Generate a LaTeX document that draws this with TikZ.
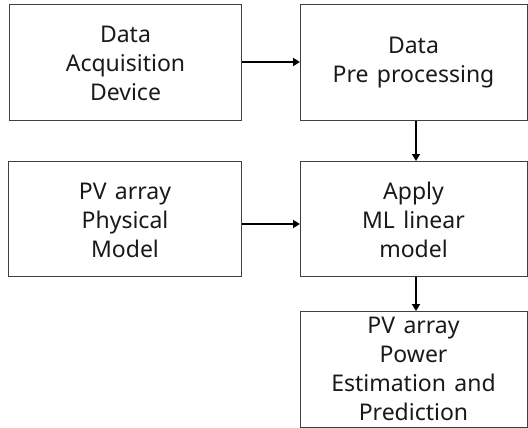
\documentclass[tikz,border=0pt]{standalone}
\usepackage{fontspec}
\setmainfont[WordSpace={1.4}]{Noto Sans}
\usetikzlibrary{arrows.meta}
\begin{document}
\begin{tikzpicture}[x=1pt,y=-1pt,
  blk/.style={draw=black!75,line width=1pt,inner sep=0pt},
  lbl/.style={align=center,font=\fontsize{23}{29}\selectfont,text=black!90},
  conn/.style={line width=2.7pt,-{Triangle[length=7pt,width=8pt]}}]
\useasboundingbox (0,0) rectangle (528,428);
\draw[blk] (9.5,4.5) rectangle (241.5,120.5);
\node[lbl] (t1) at (125.5,63) {Data\\Acquisition\\Device};
\draw[blk] (300.5,4.5) rectangle (527,120.5);
\node[lbl] (t2) at (413.5,63) {Data\\Pre processing};
\draw[blk] (8.5,161.5) rectangle (241.5,276.5);
\node[lbl] (t3) at (125,220) {PV array\\Physical\\Model};
\draw[blk] (300.5,161.5) rectangle (527,276.5);
\node[lbl] (t4) at (413.5,220) {Apply\\ML linear\\model};
\draw[blk] (300.5,311.5) rectangle (527,427.5);
\node[lbl] (t5) at (413.5,369) {PV array\\Power\\Estimation and\\Prediction};
\coordinate (a1s) at (242,62);
\coordinate (a1e) at (300,62);
\coordinate (a2s) at (416,121);
\coordinate (a2e) at (416,161);
\coordinate (a3s) at (242,224);
\coordinate (a3e) at (300,224);
\coordinate (a4s) at (416,277);
\coordinate (a4e) at (416,311);
\draw[conn] (a1s) -- (a1e);
\draw[conn] (a2s) -- (a2e);
\draw[conn] (a3s) -- (a3e);
\draw[conn] (a4s) -- (a4e);
\end{tikzpicture}
\end{document}
